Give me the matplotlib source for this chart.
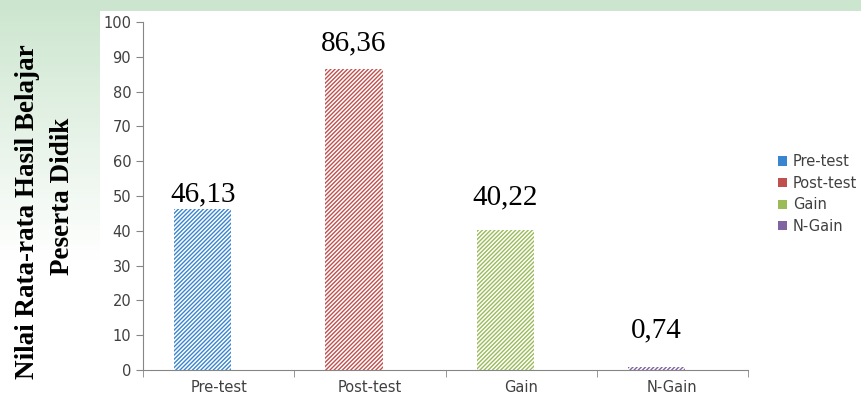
import matplotlib.pyplot as plt
import numpy as np
from matplotlib.patches import Patch

# data
categories = ['Pre-test', 'Post-test', 'Gain', 'N-Gain']
values = [46.13, 86.36, 40.22, 0.74]
value_labels = ['46,13', '86,36', '40,22', '0,74']
colors = ['#3a85cf', '#c0504d', '#9bbb59', '#8064a2']
label_offsets = [2.3, 5.6, 7.5, 8.6]

plt.rcParams['hatch.linewidth'] = 1.0

fig = plt.figure(figsize=(8.61, 4), dpi=100)

# latar hijau pudar di kiri dan atas
bg = fig.add_axes([0, 0, 1, 1], zorder=-1)
img = np.ones((400, 861, 3))
green = np.array([0.80, 0.90, 0.81])
fade = np.clip(1 - np.arange(400) / 260, 0, 1)
img[:, :100, :] = 1 - (1 - green)[None, None, :] * fade[:, None, None]
img[:11, :, :] = green
bg.imshow(img, aspect='auto')
bg.axis('off')

ax = fig.add_axes([143 / 861, 30 / 400, 605 / 861, 348 / 400])
ax.patch.set_alpha(0)

x = np.arange(len(categories))
for i in range(len(categories)):
    ax.bar(x[i] - 0.105, values[i], width=0.38, color='white',
           edgecolor=colors[i], hatch='////////', linewidth=0)
    ax.text(x[i] - 0.105, values[i] + label_offsets[i], value_labels[i],
            ha='center', va='baseline', fontsize=21, family='Liberation Serif')

ax.set_xlim(-0.5, 3.5)
ax.set_ylim(0, 100)
ax.set_yticks(range(0, 101, 10))
ax.set_xticks(x)
ax.set_xticklabels(categories)
ax.set_xticks(np.arange(-0.5, 4, 1), minor=True)

for s in ['top', 'right']:
    ax.spines[s].set_visible(False)
for s in ['left', 'bottom']:
    ax.spines[s].set_color('#868686')
ax.tick_params(axis='y', direction='out', length=5, color='#868686',
               labelcolor='#404040', labelsize=10.5)
ax.tick_params(axis='x', which='major', length=0, pad=7,
               labelcolor='#404040', labelsize=10.5)
ax.tick_params(axis='x', which='minor', length=5, color='#868686')

handles = [Patch(facecolor=c, edgecolor='none') for c in colors]
fig.legend(handles, categories, loc='center left',
           bbox_to_anchor=(765 / 861, 1 - 194 / 400), frameon=False,
           handlelength=0.6, handleheight=0.6, handletextpad=0.4,
           labelspacing=0.45, prop={'size': 10.5}, labelcolor='#404040')

fig.text(28 / 861, 1 - 212 / 400, 'Nilai Rata-rata Hasil Belajar', rotation=90,
         ha='center', va='center', fontsize=19.5, fontweight='bold',
         family='Liberation Serif')
fig.text(63 / 861, 1 - 196 / 400, 'Peserta Didik', rotation=90,
         ha='center', va='center', fontsize=19.5, fontweight='bold',
         family='Liberation Serif')

fig.savefig('out.png', dpi=100)
